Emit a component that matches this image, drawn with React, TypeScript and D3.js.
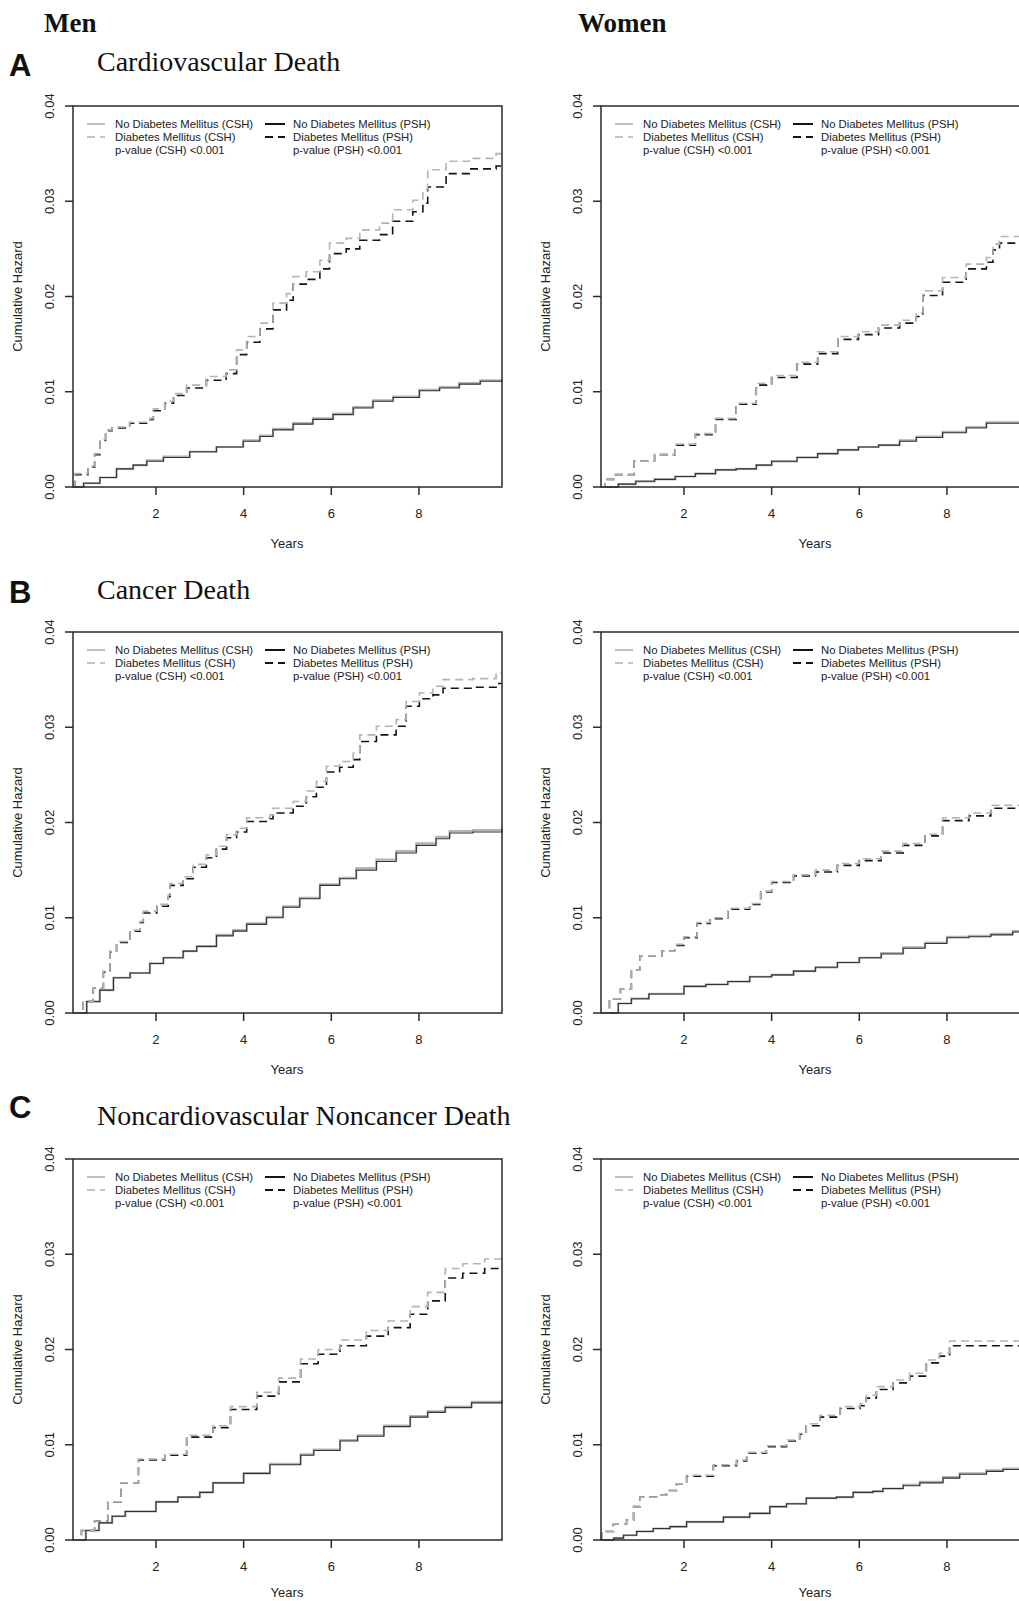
import * as d3 from 'd3'

// step points [years, cumulative hazard]
const menCvDmCsh: [number, number][] = [[0.11,0],[0.15,0.0014],[0.45,0.0022],[0.6,0.0035],[0.72,0.005],[0.85,0.006],[1.0,0.0063],[1.4,0.0068],[1.86,0.0072],[1.94,0.0082],[2.2,0.009],[2.4,0.0098],[2.7,0.0107],[3.15,0.0116],[3.6,0.0123],[3.84,0.0144],[4.07,0.0158],[4.37,0.0172],[4.67,0.0193],[4.98,0.0203],[5.13,0.0221],[5.43,0.0226],[5.74,0.0238],[5.96,0.0256],[6.34,0.0261],[6.65,0.027],[7.1,0.0277],[7.4,0.0291],[7.86,0.0301],[8.09,0.0312],[8.2,0.0333],[8.62,0.0342],[9.15,0.0345],[9.76,0.035],[9.89,0.035]]
const menCvDmPsh: [number, number][] = [[0.11,0],[0.15,0.0013],[0.45,0.0021],[0.6,0.0034],[0.72,0.0049],[0.85,0.0059],[1.0,0.0062],[1.4,0.0067],[1.86,0.0071],[1.94,0.008],[2.2,0.0088],[2.4,0.0096],[2.7,0.0104],[3.15,0.0112],[3.6,0.0119],[3.84,0.0139],[4.07,0.0152],[4.37,0.0166],[4.67,0.0186],[4.98,0.0196],[5.13,0.0213],[5.43,0.0218],[5.74,0.0229],[5.96,0.0245],[6.34,0.025],[6.65,0.0259],[7.1,0.0265],[7.4,0.0279],[7.86,0.0289],[8.09,0.0298],[8.2,0.0315],[8.62,0.0329],[9.15,0.0334],[9.76,0.0337],[9.89,0.0337]]
const menCvNoCsh: [number, number][] = [[0.11,0],[0.35,0.0004],[0.72,0.001],[1.1,0.0019],[1.48,0.0023],[1.79,0.0028],[2.17,0.0032],[2.77,0.0037],[3.38,0.0042],[3.99,0.0049],[4.37,0.0054],[4.67,0.0061],[5.13,0.0067],[5.58,0.0072],[6.04,0.0077],[6.5,0.0084],[6.95,0.0091],[7.41,0.0095],[8.01,0.0102],[8.47,0.0105],[8.92,0.0109],[9.4,0.0112],[9.89,0.0113]]
const menCvNoPsh: [number, number][] = [[0.11,0],[0.35,0.0004],[0.72,0.001],[1.1,0.0019],[1.48,0.0023],[1.79,0.0027],[2.17,0.0031],[2.77,0.0037],[3.38,0.0042],[3.99,0.0048],[4.37,0.0053],[4.67,0.006],[5.13,0.0066],[5.58,0.0071],[6.04,0.0076],[6.5,0.0083],[6.95,0.009],[7.41,0.0094],[8.01,0.0101],[8.47,0.0104],[8.92,0.0108],[9.4,0.0111],[9.89,0.0112]]

const womenCvDmCsh: [number, number][] = [[0.11,0],[0.2,0.0008],[0.4,0.0013],[0.86,0.0027],[1.33,0.0034],[1.8,0.0045],[2.26,0.0056],[2.72,0.0072],[3.19,0.0088],[3.65,0.0109],[4.0,0.0117],[4.58,0.0131],[5.05,0.0142],[5.51,0.0158],[5.98,0.0163],[6.44,0.017],[6.92,0.0175],[7.3,0.0183],[7.45,0.0206],[7.9,0.022],[8.44,0.0234],[8.9,0.0241],[9.05,0.0255],[9.2,0.0263],[9.89,0.0263]]
const womenCvDmPsh: [number, number][] = [[0.11,0],[0.2,0.0008],[0.4,0.0013],[0.86,0.0027],[1.33,0.0034],[1.8,0.0044],[2.26,0.0055],[2.72,0.0071],[3.19,0.0087],[3.65,0.0107],[4.0,0.0115],[4.58,0.0129],[5.05,0.014],[5.51,0.0155],[5.98,0.016],[6.44,0.0167],[6.92,0.0172],[7.3,0.0179],[7.45,0.0201],[7.9,0.0215],[8.44,0.0229],[8.9,0.0236],[9.05,0.0249],[9.2,0.0256],[9.89,0.0257]]
const womenCvNoCsh: [number, number][] = [[0.11,0],[0.5,0.0003],[0.9,0.0006],[1.33,0.0008],[1.8,0.0011],[2.26,0.0014],[2.72,0.0018],[3.19,0.0019],[3.65,0.0023],[4.0,0.0027],[4.58,0.0031],[5.05,0.0035],[5.51,0.0039],[5.98,0.0042],[6.44,0.0044],[6.92,0.0049],[7.3,0.0053],[7.9,0.0058],[8.44,0.0063],[8.9,0.0068],[9.89,0.0068]]
const womenCvNoPsh: [number, number][] = [[0.11,0],[0.5,0.0003],[0.9,0.0006],[1.33,0.0008],[1.8,0.0011],[2.26,0.0014],[2.72,0.0018],[3.19,0.0019],[3.65,0.0023],[4.0,0.0027],[4.58,0.0031],[5.05,0.0035],[5.51,0.0039],[5.98,0.0042],[6.44,0.0044],[6.92,0.0048],[7.3,0.0052],[7.9,0.0057],[8.44,0.0062],[8.9,0.0067],[9.89,0.0067]]

const menCaDmCsh: [number, number][] = [[0.12,0],[0.34,0.0012],[0.57,0.0026],[0.8,0.0044],[0.95,0.0065],[1.1,0.0075],[1.41,0.0087],[1.64,0.0096],[1.71,0.0107],[2.02,0.0114],[2.28,0.0124],[2.32,0.0136],[2.62,0.0143],[2.85,0.0156],[3.15,0.0166],[3.38,0.0175],[3.61,0.0187],[3.84,0.0194],[4.07,0.0205],[4.6,0.0208],[4.67,0.0215],[5.13,0.0222],[5.43,0.0233],[5.66,0.0243],[5.89,0.0259],[6.19,0.0264],[6.5,0.0273],[6.65,0.0292],[7.03,0.0301],[7.48,0.0308],[7.71,0.0327],[8.01,0.0336],[8.32,0.0343],[8.55,0.035],[9.23,0.0351],[9.76,0.0357],[9.89,0.0357]]
const menCaDmPsh: [number, number][] = [[0.12,0],[0.34,0.0012],[0.57,0.0026],[0.8,0.0043],[0.95,0.0064],[1.1,0.0074],[1.41,0.0086],[1.64,0.0095],[1.71,0.0105],[2.02,0.0112],[2.28,0.0122],[2.32,0.0134],[2.62,0.0141],[2.85,0.0153],[3.15,0.0163],[3.38,0.0172],[3.61,0.0184],[3.84,0.019],[4.07,0.0201],[4.6,0.0204],[4.67,0.021],[5.13,0.0217],[5.43,0.0227],[5.66,0.0237],[5.89,0.0253],[6.19,0.0258],[6.5,0.0266],[6.65,0.0285],[7.03,0.0292],[7.48,0.0301],[7.71,0.0322],[8.01,0.033],[8.32,0.0334],[8.55,0.0341],[9.23,0.0342],[9.76,0.0346],[9.89,0.0346]]
const menCaNoCsh: [number, number][] = [[0.12,0],[0.42,0.0012],[0.72,0.0024],[1.03,0.0037],[1.41,0.0042],[1.86,0.0052],[2.17,0.0058],[2.62,0.0065],[2.93,0.007],[3.38,0.0082],[3.76,0.0087],[4.07,0.0094],[4.52,0.0101],[4.9,0.0112],[5.28,0.0121],[5.74,0.0135],[6.19,0.0142],[6.57,0.0152],[7.03,0.0161],[7.48,0.017],[7.94,0.0178],[8.39,0.0185],[8.7,0.0191],[9.23,0.0192],[9.89,0.0195]]
const menCaNoPsh: [number, number][] = [[0.12,0],[0.42,0.0012],[0.72,0.0024],[1.03,0.0037],[1.41,0.0042],[1.86,0.0052],[2.17,0.0058],[2.62,0.0065],[2.93,0.007],[3.38,0.0081],[3.76,0.0086],[4.07,0.0093],[4.52,0.01],[4.9,0.0111],[5.28,0.012],[5.74,0.0134],[6.19,0.0141],[6.57,0.015],[7.03,0.0159],[7.48,0.0168],[7.94,0.0176],[8.39,0.0183],[8.7,0.0189],[9.23,0.019],[9.89,0.0192]]

const womenCaDmCsh: [number, number][] = [[0.11,0],[0.3,0.0015],[0.55,0.0025],[0.8,0.0045],[1.0,0.006],[1.5,0.0065],[1.8,0.0072],[2.0,0.008],[2.3,0.0095],[2.6,0.01],[3.0,0.011],[3.5,0.0115],[3.75,0.0128],[4.0,0.0138],[4.5,0.0145],[5.0,0.015],[5.5,0.0157],[6.0,0.0162],[6.5,0.017],[7.0,0.0178],[7.5,0.0188],[7.9,0.0205],[8.5,0.021],[9.0,0.0218],[9.89,0.0218]]
const womenCaDmPsh: [number, number][] = [[0.11,0],[0.3,0.0015],[0.55,0.0025],[0.8,0.0045],[1.0,0.006],[1.5,0.0065],[1.8,0.0071],[2.0,0.0079],[2.3,0.0094],[2.6,0.0099],[3.0,0.0109],[3.5,0.0114],[3.75,0.0127],[4.0,0.0137],[4.5,0.0144],[5.0,0.0148],[5.5,0.0155],[6.0,0.016],[6.5,0.0168],[7.0,0.0176],[7.5,0.0186],[7.9,0.0202],[8.5,0.0207],[9.0,0.0215],[9.89,0.0215]]
const womenCaNoCsh: [number, number][] = [[0.11,0],[0.5,0.001],[0.8,0.0015],[1.2,0.002],[2.0,0.0028],[2.5,0.003],[3.0,0.0033],[3.5,0.0038],[4.0,0.004],[4.5,0.0044],[5.0,0.0048],[5.5,0.0053],[6.0,0.0058],[6.5,0.0063],[7.0,0.0069],[7.5,0.0074],[8.0,0.008],[8.5,0.0081],[9.0,0.0083],[9.5,0.0086],[9.89,0.0087]]
const womenCaNoPsh: [number, number][] = [[0.11,0],[0.5,0.001],[0.8,0.0015],[1.2,0.002],[2.0,0.0028],[2.5,0.003],[3.0,0.0033],[3.5,0.0038],[4.0,0.004],[4.5,0.0044],[5.0,0.0048],[5.5,0.0053],[6.0,0.0058],[6.5,0.0062],[7.0,0.0068],[7.5,0.0073],[8.0,0.0079],[8.5,0.008],[9.0,0.0082],[9.5,0.0085],[9.89,0.0086]]

const menOtDmCsh: [number, number][] = [[0.11,0],[0.3,0.001],[0.6,0.002],[0.9,0.004],[1.2,0.006],[1.6,0.0085],[2.2,0.009],[2.7,0.011],[3.3,0.012],[3.7,0.014],[4.3,0.0155],[4.8,0.017],[5.3,0.019],[5.7,0.02],[6.2,0.021],[6.8,0.022],[7.3,0.023],[7.8,0.0245],[8.2,0.026],[8.6,0.0285],[9.0,0.029],[9.5,0.0295],[9.89,0.0298]]
const menOtDmPsh: [number, number][] = [[0.11,0],[0.3,0.001],[0.6,0.002],[0.9,0.004],[1.2,0.006],[1.6,0.0084],[2.2,0.0089],[2.7,0.0108],[3.3,0.0118],[3.7,0.0137],[4.3,0.0151],[4.8,0.0166],[5.3,0.0185],[5.7,0.0195],[6.2,0.0204],[6.8,0.0214],[7.3,0.0223],[7.8,0.0237],[8.2,0.0251],[8.6,0.0275],[9.0,0.028],[9.5,0.0285],[9.89,0.0287]]
const menOtNoCsh: [number, number][] = [[0.11,0],[0.4,0.001],[0.7,0.0018],[1.0,0.0025],[1.3,0.003],[2.0,0.004],[2.5,0.0045],[3.0,0.005],[3.3,0.006],[4.0,0.007],[4.6,0.008],[5.3,0.009],[5.6,0.0095],[6.2,0.0105],[6.6,0.011],[7.2,0.012],[7.8,0.013],[8.2,0.0135],[8.6,0.014],[9.2,0.0145],[9.89,0.0147]]
const menOtNoPsh: [number, number][] = [[0.11,0],[0.4,0.001],[0.7,0.0018],[1.0,0.0025],[1.3,0.003],[2.0,0.004],[2.5,0.0045],[3.0,0.005],[3.3,0.006],[4.0,0.007],[4.6,0.0079],[5.3,0.0089],[5.6,0.0094],[6.2,0.0104],[6.6,0.0109],[7.2,0.0119],[7.8,0.0129],[8.2,0.0134],[8.6,0.0139],[9.2,0.0144],[9.89,0.0146]]

const womenOtDmCsh: [number, number][] = [[0.11,0],[0.12,0.0009],[0.39,0.0017],[0.69,0.0021],[0.85,0.0035],[1.0,0.0045],[1.45,0.0047],[1.6,0.0052],[1.83,0.0059],[2.06,0.0068],[2.52,0.0068],[2.67,0.0079],[3.2,0.0084],[3.43,0.0092],[3.88,0.0099],[4.34,0.0105],[4.64,0.0112],[4.79,0.0122],[5.1,0.0131],[5.56,0.014],[6.02,0.0143],[6.16,0.0152],[6.39,0.0161],[6.77,0.0168],[7.15,0.0175],[7.53,0.0189],[7.83,0.0196],[8.06,0.0209],[9.89,0.021]]
const womenOtDmPsh: [number, number][] = [[0.11,0],[0.12,0.0009],[0.39,0.0017],[0.69,0.0021],[0.85,0.0035],[1.0,0.0045],[1.45,0.0047],[1.6,0.0052],[1.83,0.0059],[2.06,0.0067],[2.52,0.0067],[2.67,0.0078],[3.2,0.0083],[3.43,0.0091],[3.88,0.0098],[4.34,0.0104],[4.64,0.0111],[4.79,0.012],[5.1,0.0129],[5.56,0.0138],[6.02,0.0141],[6.16,0.0149],[6.39,0.0158],[6.77,0.0165],[7.15,0.0172],[7.53,0.0186],[7.83,0.0193],[8.06,0.0204],[9.89,0.0204]]
const womenOtNoCsh: [number, number][] = [[0.11,0],[0.4,0.0002],[0.62,0.0005],[0.92,0.0009],[1.3,0.0012],[1.68,0.0014],[2.06,0.0019],[2.9,0.0024],[3.5,0.0028],[3.96,0.0035],[4.34,0.0038],[4.79,0.0044],[5.48,0.0045],[5.86,0.005],[6.31,0.0051],[6.54,0.0054],[7.0,0.0058],[7.38,0.0061],[7.91,0.0066],[8.29,0.007],[8.9,0.0073],[9.28,0.0075],[9.89,0.0075]]
const womenOtNoPsh: [number, number][] = [[0.11,0],[0.4,0.0002],[0.62,0.0005],[0.92,0.0009],[1.3,0.0012],[1.68,0.0014],[2.06,0.0019],[2.9,0.0024],[3.5,0.0028],[3.96,0.0035],[4.34,0.0038],[4.79,0.0044],[5.48,0.0045],[5.86,0.005],[6.31,0.0051],[6.54,0.0054],[7.0,0.0057],[7.38,0.006],[7.91,0.0065],[8.29,0.0069],[8.9,0.0072],[9.28,0.0074],[9.89,0.0074]]

const xTicks = [2, 4, 6, 8]
const yTicks = [0, 0.01, 0.02, 0.03, 0.04]
const sexLabels = ['Men', 'Women']
const rowLetters = ['A', 'B', 'C']
const rowTitles = ['Cardiovascular Death', 'Cancer Death', 'Noncardiovascular Noncancer Death']
const legendLeft = ['No Diabetes Mellitus (CSH)', 'Diabetes Mellitus (CSH)', 'p-value (CSH) <0.001']
const legendRight = ['No Diabetes Mellitus (PSH)', 'Diabetes Mellitus (PSH)', 'p-value (PSH) <0.001']

const panels = [
  [
    { noCsh: menCvNoCsh, noPsh: menCvNoPsh, dmCsh: menCvDmCsh, dmPsh: menCvDmPsh },
    { noCsh: womenCvNoCsh, noPsh: womenCvNoPsh, dmCsh: womenCvDmCsh, dmPsh: womenCvDmPsh },
  ],
  [
    { noCsh: menCaNoCsh, noPsh: menCaNoPsh, dmCsh: menCaDmCsh, dmPsh: menCaDmPsh },
    { noCsh: womenCaNoCsh, noPsh: womenCaNoPsh, dmCsh: womenCaDmCsh, dmPsh: womenCaDmPsh },
  ],
  [
    { noCsh: menOtNoCsh, noPsh: menOtNoPsh, dmCsh: menOtDmCsh, dmPsh: menOtDmPsh },
    { noCsh: womenOtNoCsh, noPsh: womenOtNoPsh, dmCsh: womenOtDmCsh, dmPsh: womenOtDmPsh },
  ],
]

const W = 1019
const H = 1601
const colLeft = [73, 601]
const boxW = 429
const rowTop = [106, 632, 1159]
const boxH = 381
const titleY = [[76, 71], [603, 599], [1118, 1125]]

const GRAY = '#b3b3b3'
const BLACK = '#141414'
const AXIS = '#2a2a2a'
const DASH = '8,5'
const sans = 'Liberation Sans, Arial, sans-serif'
const serif = 'Liberation Serif, Times New Roman, serif'

function Panel({ x0, y0, data }) {
  const x = d3.scaleLinear().domain([0.107, 9.895]).range([x0, x0 + boxW])
  const y = d3.scaleLinear().domain([0, 0.04]).range([y0 + boxH, y0])
  const line = d3
    .line<[number, number]>()
    .x((d) => x(d[0]))
    .y((d) => y(d[1]))
    .curve(d3.curveStepAfter)
  const fmt = d3.format('.2f')
  const bottom = y0 + boxH

  const curve = (pts, color, width, dashed) => (
    <path
      d={line(pts) || ''}
      fill="none"
      stroke={color}
      strokeWidth={width}
      strokeDasharray={dashed ? DASH : undefined}
    />
  )

  return (
    <g>
      {curve(data.noCsh, GRAY, 2.2, false)}
      {curve(data.noPsh, '#333', 1.1, false)}
      {curve(data.dmPsh, BLACK, 1.6, true)}
      {curve(data.dmCsh, GRAY, 1.6, true)}

      <rect x={x0} y={y0} width={boxW} height={boxH} fill="none" stroke={AXIS} strokeWidth={1.5} />

      {xTicks.map((t) => (
        <g key={t}>
          <line x1={x(t)} x2={x(t)} y1={bottom} y2={bottom + 8} stroke={AXIS} strokeWidth={1.5} />
          <text x={x(t)} y={bottom + 31} textAnchor="middle" fontFamily={sans} fontSize={13} fill="#222">
            {t}
          </text>
        </g>
      ))}
      {yTicks.map((v) => (
        <g key={v}>
          <line x1={x0 - 8} x2={x0} y1={y(v)} y2={y(v)} stroke={AXIS} strokeWidth={1.5} />
          <text
            transform={`translate(${x0 - 19},${y(v)}) rotate(-90)`}
            textAnchor="middle"
            fontFamily={sans}
            fontSize={13}
            fill="#222"
          >
            {fmt(v)}
          </text>
        </g>
      ))}
      <text
        x={x0 + 214}
        y={Math.min(bottom + 61, H - 4)}
        textAnchor="middle"
        fontFamily={sans}
        fontSize={13}
        fill="#222"
      >
        Years
      </text>
      <text
        transform={`translate(${x0 - 51},${y0 + boxH / 2}) rotate(-90)`}
        textAnchor="middle"
        fontFamily={sans}
        fontSize={13}
        fill="#222"
      >
        Cumulative Hazard
      </text>

      {/* legend */}
      {legendLeft.map((s, i) => (
        <text key={s} x={x0 + 42} y={y0 + 22 + i * 13} fontFamily={sans} fontSize={11.3} fill="#222">
          {s}
        </text>
      ))}
      {legendRight.map((s, i) => (
        <text key={s} x={x0 + 220} y={y0 + 22 + i * 13} fontFamily={sans} fontSize={11.3} fill="#222">
          {s}
        </text>
      ))}
      <line x1={x0 + 14} x2={x0 + 32} y1={y0 + 18} y2={y0 + 18} stroke={GRAY} strokeWidth={1.7} />
      <line x1={x0 + 14} x2={x0 + 32} y1={y0 + 31} y2={y0 + 31} stroke={GRAY} strokeWidth={1.7} strokeDasharray={DASH} />
      <line x1={x0 + 192} x2={x0 + 212} y1={y0 + 18} y2={y0 + 18} stroke={BLACK} strokeWidth={2} />
      <line x1={x0 + 192} x2={x0 + 212} y1={y0 + 31} y2={y0 + 31} stroke={BLACK} strokeWidth={2} strokeDasharray={DASH} />
    </g>
  )
}

export default function App() {
  return (
    <svg
      width={W}
      height={H}
      viewBox={`0 0 ${W} ${H}`}
      style={{ position: 'absolute', left: 0, top: 0, background: '#fff' }}
    >
      <rect width={W} height={H} fill="#fff" />
      <text x={44} y={32} fontFamily={serif} fontWeight="bold" fontSize={27} fill="#111">
        {sexLabels[0]}
      </text>
      <text x={578} y={32} fontFamily={serif} fontWeight="bold" fontSize={27} fill="#111">
        {sexLabels[1]}
      </text>
      {rowLetters.map((l, r) => (
        <g key={l}>
          <text x={9} y={titleY[r][0]} fontFamily={sans} fontWeight="bold" fontSize={31} fill="#111">
            {l}
          </text>
          <text x={97} y={titleY[r][1]} fontFamily={serif} fontSize={28} fill="#111">
            {rowTitles[r]}
          </text>
        </g>
      ))}
      {panels.map((row, r) =>
        row.map((p, c) => <Panel key={`${r}-${c}`} x0={colLeft[c]} y0={rowTop[r]} data={p} />)
      )}
    </svg>
  )
}
